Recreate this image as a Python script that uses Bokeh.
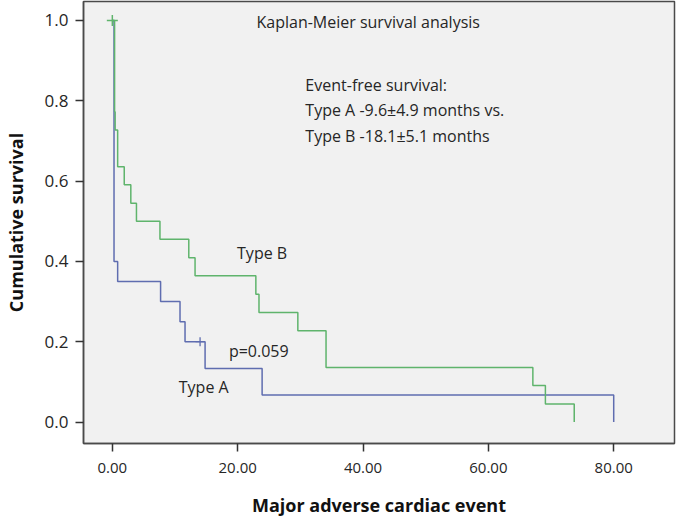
from bokeh.plotting import figure
from bokeh.models import FixedTicker, PrintfTickFormatter, Range1d, Label
from bokeh.embed import file_html
from bokeh.resources import INLINE

# Type A (blue) Kaplan-Meier steps: time at which survival becomes value
type_a_time = [0.0, 0.27, 0.85, 7.7, 10.8, 11.6, 14.8, 23.9, 80.0]
type_a_surv = [1.0, 0.40, 0.35, 0.30, 0.25, 0.20, 0.133, 0.067, 0.0]
type_a_censor_time = [14.0]
type_a_censor_surv = [0.20]

# Type B (green)
type_b_time = [0.0, 0.36, 0.45, 0.85, 1.9, 2.95, 3.85, 7.6, 12.2, 13.2,
               22.9, 23.4, 29.6, 34.1, 67.1, 69.1, 73.7]
type_b_surv = [1.0, 0.773, 0.727, 0.636, 0.591, 0.545, 0.50, 0.455, 0.409,
               0.364, 0.318, 0.273, 0.227, 0.136, 0.091, 0.045, 0.0]
type_b_censor_time = [0.0]
type_b_censor_surv = [1.0]

x_ticks = [0, 20, 40, 60, 80]
y_ticks = [0.0, 0.2, 0.4, 0.6, 0.8, 1.0]

title_text = "Kaplan-Meier survival analysis"
info_lines = ["Event-free survival:",
              "Type A -9.6\u00b14.9 months vs.",
              "Type B -18.1\u00b15.1 months"]
x_title = "Major adverse cardiac event"
y_title = "Cumulative survival"

FONT = "Open Sans"
BLUE = "#5f6db0"
GREEN = "#5fb46c"
TXT = "#262626"

p = figure(width=676, height=520, output_backend="svg", toolbar_location=None,
           x_range=Range1d(-4.6, 89.7), y_range=Range1d(-0.0535, 1.0473),
           min_border_left=74, min_border_right=2, min_border_top=1,
           min_border_bottom=77)
p.background_fill_color = "#f1f1f1"
p.border_fill_color = "white"
p.outline_line_color = "#4a4a4a"
p.outline_line_width = 1.5
p.xgrid.visible = False
p.ygrid.visible = False

p.step(type_a_time, type_a_surv, mode="after", line_color=BLUE, line_width=1.5)
p.step(type_b_time, type_b_surv, mode="after", line_color=GREEN, line_width=1.5)
p.scatter(type_a_censor_time, type_a_censor_surv, marker="cross", size=9,
          line_color=BLUE, line_width=1.3)
p.scatter(type_b_censor_time, type_b_censor_surv, marker="cross", size=11,
          line_color=GREEN, line_width=1.5)

for ax in (p.xaxis[0], p.yaxis[0]):
    ax.axis_line_color = "#4a4a4a"
    ax.axis_line_width = 1.5
    ax.major_tick_line_color = "#333333"
    ax.major_tick_line_width = 1.5
    ax.major_tick_in = 0
    ax.major_tick_out = 8
    ax.minor_tick_line_color = None
    ax.major_label_text_font = FONT
    ax.major_label_text_color = TXT
    ax.axis_label_text_font = FONT
    ax.axis_label_text_font_style = "bold"
    ax.axis_label_text_color = "#111111"
    ax.axis_label_text_font_size = "18px"

p.xaxis.ticker = FixedTicker(ticks=x_ticks)
p.xaxis.formatter = PrintfTickFormatter(format="%.2f")
p.xaxis.major_label_text_font_size = "15px"
p.xaxis.major_label_standoff = 11
p.xaxis.axis_label = x_title
p.xaxis.axis_label_standoff = 17

p.yaxis.ticker = FixedTicker(ticks=y_ticks)
p.yaxis.formatter = PrintfTickFormatter(format="%.1f")
p.yaxis.major_label_text_font_size = "17px"
p.yaxis.major_label_standoff = 7
p.yaxis.axis_label = y_title
p.yaxis.axis_label_standoff = 14

def add_label(x, y, text):
    p.add_layout(Label(x=x, y=y, text=text, text_font=FONT, text_font_size="16px",
                       text_color=TXT, text_baseline="middle", text_align="left"))

add_label(23.0, 0.996, title_text)
for i, line in enumerate(info_lines):
    add_label(30.8, 0.840 - i * 0.0635, line)
add_label(19.9, 0.421, "Type B")
add_label(18.6, 0.177, "p=0.059")
add_label(10.6, 0.086, "Type A")

open("out.html", "w").write(file_html(p, INLINE))
